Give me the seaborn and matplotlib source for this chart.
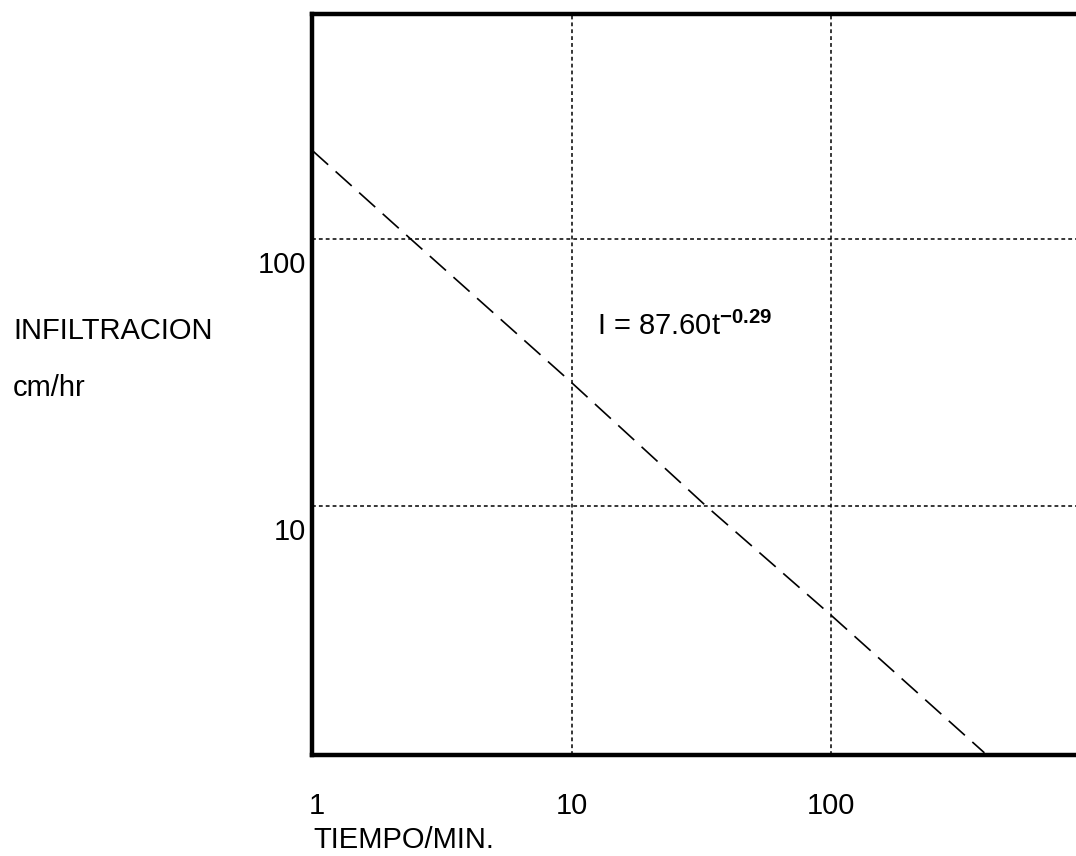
import seaborn as sns
import matplotlib.pyplot as plt
import matplotlib.transforms as mtrans

# valores (log-log)
tiempo = [1, 2.4, 10, 33, 100, 390]
infiltracion = [215, 100, 29, 10, 3.9, 1.19]

x_ticks = [1, 10, 100]
x_labels = ['1', '10', '100']
y_ticks = [10, 100]
y_labels = ['10', '100']
ecuacion = r'I = 87.60t$^{\mathbf{-0.29}}$'

sns.set_theme(style='white')
plt.rcParams['font.family'] = ['Liberation Sans', 'DejaVu Sans']
plt.rcParams['mathtext.fontset'] = 'custom'
plt.rcParams['mathtext.rm'] = 'Liberation Sans'
plt.rcParams['mathtext.it'] = 'Liberation Sans:italic'
plt.rcParams['mathtext.bf'] = 'Liberation Sans:bold'

fs = 21
fig = plt.figure(figsize=(10.76, 8.56), dpi=100)
ax = fig.add_axes([0.29, 0.118, 0.71, 0.8656])
ax.set(xscale='log', yscale='log')

sns.lineplot(x=tiempo, y=infiltracion, ax=ax, color='black', lw=1.2,
             ls=(0, (13, 6)))

ax.set_xlim(1, 879)
ax.set_ylim(1.168, 696)
ax.set_xticks(x_ticks, x_labels)
ax.set_yticks(y_ticks, y_labels)
ax.minorticks_off()
ax.tick_params(length=0, labelsize=fs, colors='black')
ax.tick_params(axis='x', pad=27)
ax.tick_params(axis='y', pad=4)
ax.grid(True, color='black', lw=1.1, ls=(0, (2.5, 2)))

# etiquetas de y bajo la linea de la reja
off = mtrans.ScaledTranslation(0, -0.12, fig.dpi_scale_trans)
for lab in ax.get_yticklabels():
    lab.set_va('top')
    lab.set_transform(lab.get_transform() + off)
# el "1" queda pegado a la derecha del eje
off_x = mtrans.ScaledTranslation(0.05, 0, fig.dpi_scale_trans)
lab1 = ax.get_xticklabels()[0]
lab1.set_transform(lab1.get_transform() + off_x)

for s in ['left', 'top', 'bottom']:
    ax.spines[s].set_color('black')
    ax.spines[s].set_linewidth(3.2)
ax.spines['right'].set_visible(False)

ax.text(597 / 1076, 1 - 326 / 856, ecuacion, transform=fig.transFigure,
        fontsize=fs, va='center', ha='left', color='black')
fig.text(13 / 1076, 1 - 331 / 856, 'INFILTRACION', fontsize=fs,
         va='center', color='black')
fig.text(13 / 1076, 1 - 388 / 856, 'cm/hr', fontsize=fs, va='center',
         color='black')
fig.text(313 / 1076, 1 - 840 / 856, 'TIEMPO/MIN.', fontsize=fs,
         va='center', color='black')

fig.savefig('out.png', dpi=100)
